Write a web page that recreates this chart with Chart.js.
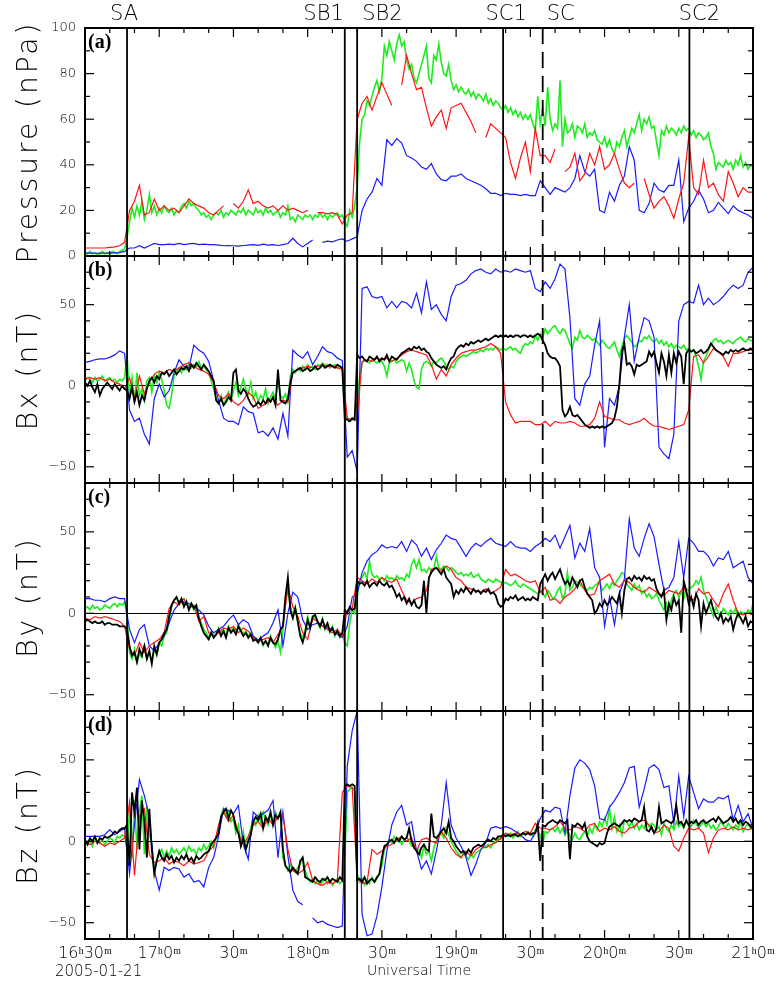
<!DOCTYPE html>
<html><head><meta charset="utf-8">
<script src="https://cdn.jsdelivr.net/npm/chart.js@4.4.1/dist/chart.umd.min.js"></script>
<style>
html,body{margin:0;padding:0;background:#fff;}
#wrap{position:relative;width:778px;height:982px;overflow:hidden;}
#wrap canvas{position:absolute;left:0;top:0;}
</style></head><body><div id="wrap">
<canvas id="pa" width="778" height="982"></canvas>
<canvas id="pb" width="778" height="982"></canvas>
<canvas id="pc" width="778" height="982"></canvas>
<canvas id="pd" width="778" height="982"></canvas>
</div>
<script>
// ---- time axis (minutes after 16:30 UT, 2005-01-21) ----
const xLabelMinutes = [0,30,60,90,120,150,180,210,240,270];
const xLabelTexts = ['16ʰ30ᵐ','17ʰ0ᵐ','30ᵐ','18ʰ0ᵐ','30ᵐ','19ʰ0ᵐ','30ᵐ','20ʰ0ᵐ','30ᵐ','21ʰ0ᵐ'];
const dateLabel = '2005-01-21';
const xTitle = 'Universal Time';
const eventTimes = [17,105,110,169,185,244.3];
const eventNames = ['SA','SB1','SB2','SC1','SC','SC2'];
const STEP_LO = 2;   // minutes between samples (blue / red)
const STEP_HI = 1;   // minutes between samples (green / black)

// ---- (a) Pressure (nPa) ----
const presRed = [
3.5,3.5,3.5,3.5,3.5,3.8,4,4.5,6,20,
24,31,18,19,25,20,22,20,21,19,
22,25,23,22,21,19,18,20,22,null,
23,21,24,29,23,24,22,21,22,20,
22,20,21,20,19,20,null,19,19,18.5,
19,18,14,18,19,60,67,70,64,70,
76,71,66,null,75,88,80,73,74,65,
57,61,64,56,65,66,67,63,59,54,
null,52,58,56,54,52,41,34,43,50,
37,56,44,44,41,47,null,37,39,45,
33,36,45,40,48,38,40,45,38,32,
30,32,null,34,27,21,24,26,22,16.5,
25,32,52,30,27,42,30,32,27,24,
37,32,26,30,28,28];
const presBlue = [
1.3,1.3,1.2,1.3,1.2,1.3,1.4,1.5,2,3.5,
3.5,4.5,3.5,4.5,5.5,5,5,5.2,5,5.5,
5,5.3,5.5,5,5.2,5,5,4.8,4.5,4.6,
4.5,4.3,4.6,4.8,5,4.7,5.2,4.8,5,4.6,
5,5.5,7.8,5.5,4,5.5,7,null,6,6.5,
6.2,7,7.5,6.5,7.5,8.4,20,25,28,34,
31,51,48.5,51.5,49.5,44,43,41.5,39,38,
40.5,36,33.5,33,35,35,36,34,33,32,
31,29.5,27.5,27.5,26.5,27.5,27,27,26.5,27,
26.5,26.5,33,30,27,30,29,28,30,34,
44,37,35,38,20,19,28,24,31,35,
48,42,20,19,23,32,29,28,31,31,
42,15,21,24,28.8,25,19,20,23.5,21,
18.6,22,20,19,18,16.5];
const presGreen = [
1.5,1,2,1,1.5,0.5,1,2,1,1.5,
1,2,1.5,1,2,2.5,3,8,15,21,
17,22,18,24,16,20,27,19,22,18,
21,19,22,20,19,21,18,20,19,22,
23,21,24,22,23,21,20,18,19,17,
18,16,18,19,18,20,17,19,18,20,
19,18,20,19,21,18,20,19,18,21,
19,20,18,21,19,20,18,19,20,17,
19,18,22,16,17,15,18,17,16,18,
17,18,16,18,17,19,17,18,16,18,
17,18,19,17,18,15,13,20,17,22,
30,50,60,62,68,66,70,74,77,72,
78,92,88,94,90,86,93,97,92,94,
86,82,84,78,76,80,84,88,92,78,
76,88,86,93,85,80,79,84,77,73,
75,72,74,72,71,73,70,72,69,71,
70,68,71,67,69,66,68,67,65,64,
66,63,65,62,64,61,63,60,62,60,
62,58,55,70,58,65,57,74,60,55,
58,56,77,48,60,54,55,58,52,57,
56,54,58,52,54,53,55,51,50,49,
52,48,51,47,45,50,48,52,55,48,
52,56,54,58,62,55,60,58,61,56,
57,50,44,55,53,57,54,56,55,53,
56,54,57,55,56,53,55,52,54,53,
51,52,54,48,45,38,41,40,39,42,
40,41,38,42,40,44,39,41,38,40,
39];

// ---- (b) Bx (nT) ----
const bxBlue = [
14.4,15,16,16.5,16.5,17.5,19,21.5,20,-15,
-22,-20,-30,-36,-8,1,-7,-3,8,16,
12,11,25,22,20,15,3,-9,-20,-22,
-22,-24,-13,-16,-17,-29,-28,-31,-26,-33,
-17,-31,22,19,17,21,13,18,24,21,
20,17,15.5,-44,-40,-53,60,61,55,54,
55,48,52,48,52,51,48,57,45,64,
47,50,44,40,55,62,63,65,69,71,
72,70,69,72,70,71,70,72,71,70,
71,60,58,64,60,66,75,72,42,-8,
-12,1,6,25,40,-38,-8,-12,0,30,
50,15,30,42,40,30,-38,-42,-45,-30,
40,50,52,51,62,50,54,50,52,55,
59,62,60,62,70,73];
const bxRed = [
4,5,4,5,3,4,2,1,-2,5,
-8,6,-5,2,7,9,8,10,9,11,
13,14,12,10,9,7,2,-6,-8,-5,
-10,-12,-9,-4,-7,-14,-12,-10,-8,-12,
-9,-10,8,10,11,12,11,12,13,12,
12,11,10,-20,-21,-20,15,16,15,17,
16,17,15,17,19,21,22,21,20,19,
13,4,10,6,13,17,20,21,22,22,
23,24,26,24,20,-10,-18,-23,-22,-22,
-22,-24,-24,-22,-25,-22,-23,-23,-22,-23,
-25,-25,-24,-20,-10,-19,-20,-21,-21,-23,
-24,-23,-22,-20,-23,-25,-25,-26,-27,-26,
-25,-24,-15,18,19,14,18,23,21,18,
12,20,20,21,22,22];
const bxGreen = [
3,5,4,2,5,3,4,6,3,4,
5,3,4,2,4,3,5,19,-8,5,
-10,8,-6,-2,-9,3,5,-4,6,2,
8,4,-3,-12,-14,-6,6,9,11,8,
12,10,14,11,13,12,15,11,12,10,
8,3,-2,-8,-10,-6,-12,-8,-4,-9,
-3,2,-6,-1,4,-2,-5,2,-8,-4,
-10,-6,-8,-2,-11,-7,-4,-9,5,-6,
-8,-5,-10,6,10,8,11,9,12,10,
13,11,12,10,13,12,14,12,13,11,
12,13,11,12,10,-15,-20,-22,-21,-19,
-10,5,14,16,15,14,16,15,14,15,
15,12,6,14,15,16,14,15,16,15,
9,14,10,3,-1,-2,10,14,15,14,
12,15,14,16,17,15,12,10,12,11,
15,17,18,19,18,19,20,21,20,21,
22,21,23,22,23,22,24,23,22,23,
22,23,24,22,23,21,20,24,26,25,
27,26,31,28,32,30,35,32,34,36,
37,34,32,35,34,30,26,23,30,28,
34,30,29,31,30,28,29,27,25,28,
26,24,23,25,27,22,18,24,29,31,
29,27,24,25,28,27,30,29,31,28,
27,29,26,28,25,27,24,26,23,25,
24,23,25,22,23,21,22,18,12,4,
15,18,22,25,28,29,27,28,26,27,
28,27,26,28,29,30,28,27,29,28,
27];
const bxBlack = [
2,0,3,-1,-4,1,-6,-2,0,2,
0,-2,1,-1,-3,0,-2,-3,-8,-1,
-10,-4,-12,-6,-9,-2,3,5,2,6,
4,8,7,9,6,8,10,7,9,11,
10,12,9,13,11,14,12,10,13,11,
9,6,3,-9,-11,-8,-12,-10,-7,-9,
8,10,-3,-5,-2,-4,-8,-11,-13,-12,
-10,-12,-9,-11,-8,-10,-7,-12,10,-9,
-10,-11,-8,2,8,9,10,11,9,10,
11,9,10,12,10,11,13,11,12,13,
12,11,13,12,11,-20,-21,-22,-20,-21,
19,17,18,16,15,18,17,16,18,15,
17,16,19,15,18,17,16,18,20,21,
22,23,22,24,23,24,22,23,21,20,
17,15,13,12,11,12,10,14,17,18,
22,24,25,24,26,25,27,26,27,28,
27,28,29,28,29,30,31,30,31,30,
31,30,31,30,31,31,30,31,31,30,
31,30,31,32,31,28,25,20,18,17,
17,15,12,-15,-19,-17,-13,-18,-19,-18,
-20,-22,-24,-25,-26,-25,-26,-25,-26,-25,
-26,-25,-24,-23,-20,-13,1,21,26,13,
14,12,7,13,12,13,14,15,21,18,
21,14,8,20,15,6,19,8,20,14,
21,18,1,20,22,21,22,20,21,22,
20,21,23,26,24,22,21,20,19,21,
20,22,21,22,21,22,23,22,22,23,
22];

// ---- (c) By (nT) ----
const byBlue = [
9,9,8,8,7,9,10,9,9,-10,
-18,-10,-7,-20,-23,-18,-14,-6,2,6,
7,6,4,2,-1,-8,-12,-10,-8,-4,
-1,-7,-4,-6,-14,-16.5,-14,-12,-6,2,
-20,0,13,10,-4,-10,-7,-6,-8,-9,
-10,-13,-15,-8,10,12,25,32,36,38,
42,40,41,40,44,38,45,42,35,40,
33,39,43,48,46,45,40,35,40,43,
41,44,46,43,42,41,44,41,40,40,
38,41,43,46,44,48,40,47,54,34,
43,38,52,28,22,-8,10,-7,12,21,
58,40,35,46,55,47,30,14,16,22,
44,22,46,43,38,38,35,29,34,33,
38,28,30,32,22,18];
const byRed = [
-3,-4,-2,-3,-2,-3,-4,-5,-8,-22,
-26,-18,-24,-20,-18,-16,-12,3,7,5,
9,3,5,-5,-2,-12,-14,-12,-9,-10,
-8,-12,-9,-11,-15,-17,-16,-15,-18,-13,
-8,16,4,-2,-12,-16,-3,-5,-8,-10,
-12,-10,-14,2,3,22,20,18,21,19,
22,20,19,21,14,8,6,9,10,14,
27,28,26,29,27,22,20,16,15,14,
13,15,12,14,16,27,23,24,22,20,
19,20,13,16,8,9,6,10,12,15,
20,14,11,12,20,22,24,18,16,20,
19,16,14,13,16,14,12,11,14,13,
12,16,10,8,15,12,13,8,4,12,
18,8,0,-1,0,-1];
const byGreen = [
3,4,2,5,3,4,2,3,5,4,
3,5,6,4,6,5,7,-2,-24,-28,
-22,-30,-25,-27,-20,-28,-24,-30,-22,-26,
-18,-20,-14,-12,-5,4,8,10,6,9,
5,8,3,6,2,4,-2,-6,-10,-12,
-15,-11,-14,-13,-9,-12,-10,-14,-8,-11,
-9,-12,-7,-10,-13,-11,-14,-12,-16,-15,
-18,-16,-20,-17,-19,-14,-18,-21,-17,-24,
-10,8,14,5,-2,4,-6,-12,-15,-10,
-2,-8,-4,-1,-6,-9,-3,-10,-7,-12,
-8,-14,-10,-15,-12,-18,-20,-6,2,0,
10,20,22,25,21,32,24,22,23,21,
22,20,23,21,22,20,23,21,22,20,
24,22,30,33,28,33,26,27,25,28,
26,27,35,28,27,29,28,26,28,27,
25,24,25,23,24,23,25,22,23,24,
21,20,19,21,20,19,21,20,19,18,
19,18,17,18,20,17,16,18,17,16,
15,14,13,12,14,12,10,14,12,9,
10,14,16,9,12,25,14,16,20,19,
18,16,15,14,16,15,17,18,20,14,
16,18,15,19,17,20,22,25,24,18,
16,14,18,15,17,12,14,10,12,9,
10,12,8,5,2,6,0,8,12,14,
10,13,9,15,14,16,17,20,18,22,
14,10,6,2,-2,4,0,-2,3,1,
-1,2,0,3,-2,1,0,-1,2,0,
6];
const byBlack = [
-5,-4,-5,-6,-5,-6,-6,-5,-7,-6,
-6,-7,-7,-7,-8,-8,-8,-10,-20,-26,
-24,-30,-22,-26,-20,-28,-23,-31,-20,-25,
-18,-16,-12,-10,-2,5,8,10,6,9,
4,7,2,6,3,5,-3,-8,-12,-14,
-16,-12,-15,-13,-10,-14,-11,-15,-9,-12,
-10,-13,-8,-11,-14,-12,-15,-13,-17,-16,
-18,-15,-19,-17,-20,-15,-18,-19,-16,-10,
-8,10,22,2,-3,3,-5,-14,-18,-12,
-4,-9,-2,-1,-5,-8,-4,-9,-6,-11,
-9,-13,-11,-14,-12,2,0,4,2,3,
20,18,19,17,20,16,18,19,17,20,
18,17,19,16,17,14,10,12,8,10,
6,9,5,8,4,3,5,20,0,22,
25,27,28,26,24,27,22,20,18,10,
14,12,15,13,16,14,12,15,13,14,
12,14,13,15,12,13,11,6,4,5,
9,8,10,9,11,8,9,10,8,9,
8,10,9,8,18,21,24,20,23,25,
21,24,27,22,18,20,17,22,19,16,
20,21,16,12,10,8,0,2,6,4,
8,5,7,10,8,6,12,0,14,21,
22,20,23,21,22,20,23,21,22,20,
21,15,12,10,14,-4,6,2,10,5,
8,-12,20,14,6,10,4,12,8,-8,
6,0,4,8,2,-2,-4,0,-6,-3,
-5,-2,-10,-4,0,-3,-6,-2,-8,-5,
-6];

// ---- (d) Bz (nT) ----
const bzBlue = [
3,3,3,3,4,7,4,6,8,-20,
10,38,28,15,-18,-30,-16,-18,-16,-17,
-22,-20,-25,-24,-28,-16,-10,3,20,19,
17,22,-2,-11,18,15,17,19,25,-10,
18,-9,-30,-37,-39,null,-47,-50,-49,-51,
-52,-53,-52,46,68,80,-45,-58,-57,-46,
-28,-6,10,18,22,10,12,-6,-17,-12,
-20,-6,10,36,10,2,-3,-10,-21,-14,
-5,-1,8,9,8,9,8,6,4,1,
0,5,14,19,18,21,20,5,28,45,
50,48,44,34,14,13,21,25,30,36,
45,46,21,32,45,47,44,33,34,11,
40,15,40,30,20,26,24,24,27,26,
28,13,22,12,17,8];
const bzRed = [
-1,-2,0,-1,-3,-1,-2,0,2,24,
-21,15,20,-8,-13,-12,-10,-14,-12,-13,
-15,-12,-14,-13,-12,-6,-3,10,18,12,
16,5,-2,3,10,12,8,14,10,15,
16,-5,-18,-20,-18,-13,-24,-26,-27,-25,
-26,-24,30,34,33,-22,-26,-25,-5,-8,
-6,-3,-2,1,3,0,2,-6,1,2,
0,-1,6,2,-4,-8,-10,-6,-9,-5,
-3,-4,-2,-1,2,5,4,5,4,6,
5,11,8,8,7,9,12,8,7,9,
8,6,10,11,6,8,7,9,6,5,
8,9,12,13,10,5,6,10,8,-3,
-6,2,8,7,8,5,-7,2,7,8,
7,9,7,8,7,8];
const bzGreen = [
0,-2,1,-3,2,0,-1,1,-2,0,
2,1,-1,3,2,4,3,-5,20,-10,
25,-5,18,28,-8,22,5,-2,-18,-12,
-8,-5,-10,-6,-9,-4,-7,-5,-8,-6,
-4,-7,-3,-6,-5,-8,-4,-6,-2,-5,
-3,0,-4,2,8,16,20,15,18,12,
14,5,10,-2,6,-6,2,8,14,10,
16,12,18,14,10,16,12,18,14,17,
-10,-15,-18,-14,-17,-19,-16,-14,-10,-18,
-22,-25,-23,-26,-24,-27,-25,-23,-26,-24,
-27,-25,-23,-26,-24,-10,30,32,33,31,
-20,-25,-23,-27,-24,-26,-22,-25,-23,-20,
-15,-5,-2,1,-1,3,0,2,-2,1,
3,0,-3,-2,-6,-5,-10,-3,-8,-6,
-12,-4,0,3,5,2,8,4,0,-3,
-6,-8,-10,-7,-9,-11,-8,-10,-7,-6,
-5,-4,-3,-2,-4,-1,0,2,1,3,
4,3,5,2,4,6,3,5,4,6,
5,3,7,6,4,-2,6,5,7,8,
6,9,5,8,4,7,3,1,5,2,
1,4,6,3,8,5,10,7,12,9,
14,10,20,8,15,6,10,4,13,12,
9,12,8,11,7,10,8,12,9,11,
10,7,9,4,11,8,6,10,7,12,
9,11,8,12,10,9,13,11,8,10,
12,9,11,8,10,7,9,12,10,8,
11,9,7,10,8,12,6,9,11,8,
9];
const bzBlack = [
1,-2,2,0,3,-1,2,1,3,2,
3,4,6,5,7,8,8,10,-15,30,
18,33,-5,25,12,-10,20,-5,-20,-12,
-6,-10,-12,-8,-11,-9,-13,-10,-12,-9,
-11,-8,-12,-10,-13,-9,-11,-10,-8,-7,
-6,-2,0,2,5,15,18,20,14,19,
16,8,5,-3,2,-5,0,4,12,15,
13,17,8,15,12,18,10,16,14,18,
-5,-15,-17,-19,-16,-18,-20,-12,-10,-22,
-23,-24,-25,-22,-24,-25,-23,-24,-22,-25,
-23,-24,-25,-22,-24,34,35,34,35,34,
-24,-23,-25,-22,-26,-24,-23,-25,-22,-20,
-10,-3,-2,0,1,-1,2,0,3,1,
2,8,0,-4,-6,-8,-4,-2,-5,-6,
17,3,2,4,6,8,5,12,2,0,
-3,-5,-7,-6,-8,-5,-7,-4,-3,-2,
-3,-2,0,1,0,2,1,3,3,4,
3,4,3,4,4,3,4,5,4,5,
4,5,5,11,-12,10,9,11,12,13,
12,11,13,12,11,13,-11,10,9,11,
10,8,11,3,0,-1,-2,-3,-1,-2,
-1,5,9,10,11,10,9,11,13,12,
13,12,14,13,12,13,21,7,6,9,
5,8,21,11,12,13,12,11,13,22,
11,12,9,13,10,12,11,13,10,12,
13,11,12,13,14,12,15,13,11,12,
13,15,12,14,11,13,10,12,11,9,
8];

// ---- checks ----
[['presRed',presRed,136],['presBlue',presBlue,136],['presGreen',presGreen,271],
 ['bxBlue',bxBlue,136],['bxRed',bxRed,136],['bxGreen',bxGreen,271],['bxBlack',bxBlack,271],
 ['byBlue',byBlue,136],['byRed',byRed,136],['byGreen',byGreen,271],['byBlack',byBlack,271],
 ['bzBlue',bzBlue,136],['bzRed',bzRed,136],['bzGreen',bzGreen,271],['bzBlack',bzBlack,271]
].forEach(([n,a,l])=>{ if(a.length!==l) throw new Error(n+' length '+a.length+' expected '+l); });

// ---- styles ----
const FONT = '"DejaVu Sans"';
const FW = '200';
const C_BLUE = '#1a1aff', C_RED = '#ff1414', C_GREEN = '#1eec1e', C_BLACK = '#000000';
const EVENT_DASH = [[],[],[],[],[16,8],[]];
const EVENT_ALIGN = ['center','right','left','center','left','center'];
const EVENT_DX = [-3,-1,5,3,4,10];

function series(values, step, color, width, order){
  return { data: values.map((v,i)=>({x:i*step, y:v})), borderColor: color, borderWidth: width,
           pointRadius: 0, fill: false, tension: 0, spanGaps: false, order: order };
}
function fmt(v){ return v < 0 ? '\u2212' + Math.abs(v) : String(v); }

const deco = {
  id: 'deco',
  afterDatasetsDraw(chart, args, o){
    const ctx = chart.ctx, a = chart.chartArea, xs = chart.scales.x, ys = chart.scales.y;
    ctx.save();
    ctx.strokeStyle = '#000'; ctx.fillStyle = '#000';
    const line = (x1,y1,x2,y2)=>{ ctx.beginPath(); ctx.moveTo(x1,y1); ctx.lineTo(x2,y2); ctx.stroke(); };
    // event lines
    eventTimes.forEach((t,i)=>{
      const px = xs.getPixelForValue(t);
      ctx.lineWidth = 1.8; ctx.setLineDash(EVENT_DASH[i]);
      line(px, a.top, px, a.bottom);
    });
    ctx.setLineDash([]);
    // frame
    ctx.lineWidth = 2;
    ctx.strokeRect(a.left, a.top, a.right - a.left, a.bottom - a.top);
    // inward ticks
    ctx.lineWidth = 1.2;
    let xt = xs.ticks && xs.ticks.length ? xs.ticks.map(t=>t.value) : [];
    if (!xt.length) for (let m = 0; m <= 270; m += 10) xt.push(m);
    xt.forEach(v=>{
      const px = xs.getPixelForValue(v); const L = (v % 30 === 0) ? 9 : 5;
      line(px, a.top, px, a.top + L); line(px, a.bottom, px, a.bottom - L);
    });
    ys.ticks.forEach(t=>{
      const py = ys.getPixelForValue(t.value); const L = (t.value % o.labelEvery === 0) ? 9 : 5;
      line(a.left, py, a.left + L, py); line(a.right, py, a.right - L, py);
    });
    // panel tag
    ctx.font = 'bold 20px "Liberation Serif"';
    ctx.textAlign = 'left'; ctx.textBaseline = 'middle';
    ctx.fillText(o.tag, a.left + 3, a.top + 15);
    // y title
    ctx.save();
    ctx.translate(30, (a.top + a.bottom) / 2);
    ctx.rotate(-Math.PI / 2);
    ctx.font = FW + ' 28px ' + FONT;
    try { ctx.letterSpacing = '3px'; } catch(e) {}
    ctx.textAlign = 'center'; ctx.textBaseline = 'middle';
    ctx.fillText(o.title, 0, 0);
    ctx.restore();
    // event names on top panel
    if (o.first) {
      ctx.font = FW + ' 21px ' + FONT; ctx.textBaseline = 'middle';
      eventNames.forEach((n,i)=>{
        ctx.textAlign = EVENT_ALIGN[i];
        ctx.fillText(n, xs.getPixelForValue(eventTimes[i]) + EVENT_DX[i], 15);
      });
    }
    if (o.last) {
      ctx.font = FW + ' 15px ' + FONT; ctx.textAlign = 'left'; ctx.textBaseline = 'middle';
      ctx.fillText(dateLabel, xs.getPixelForValue(0) - 30, 972);
    }
    ctx.restore();
  }
};

const panels = [
  {id:'pa', top:28, bottom:256, min:0, max:100, labelEvery:20, zero:false, tag:'(a)', title:'Pressure (nPa)',
   ds:[series(presGreen,STEP_HI,C_GREEN,1.6,3), series(presBlue,STEP_LO,C_BLUE,1.2,2), series(presRed,STEP_LO,C_RED,1.2,1)]},
  {id:'pb', top:256, bottom:483, min:-60, max:80, labelEvery:50, zero:true, tag:'(b)', title:'Bx (nT)',
   ds:[series(bxGreen,STEP_HI,C_GREEN,1.6,3), series(bxBlue,STEP_LO,C_BLUE,1.2,2), series(bxRed,STEP_LO,C_RED,1.2,1), series(bxBlack,STEP_HI,C_BLACK,1.8,0)]},
  {id:'pc', top:483, bottom:711, min:-60, max:80, labelEvery:50, zero:true, tag:'(c)', title:'By (nT)',
   ds:[series(byGreen,STEP_HI,C_GREEN,1.6,3), series(byBlue,STEP_LO,C_BLUE,1.2,2), series(byRed,STEP_LO,C_RED,1.2,1), series(byBlack,STEP_HI,C_BLACK,1.8,0)]},
  {id:'pd', top:711, bottom:939, min:-60, max:80, labelEvery:50, zero:true, tag:'(d)', title:'Bz (nT)',
   ds:[series(bzGreen,STEP_HI,C_GREEN,1.6,3), series(bzBlue,STEP_LO,C_BLUE,1.2,2), series(bzRed,STEP_LO,C_RED,1.2,1), series(bzBlack,STEP_HI,C_BLACK,1.8,0)]}
];

panels.forEach((p, idx)=>{
  const last = idx === panels.length - 1;
  new Chart(document.getElementById(p.id), {
    type: 'line',
    data: { datasets: p.ds },
    plugins: [deco],
    options: {
      responsive: false, animation: false, devicePixelRatio: 1, events: [],
      layout: { padding: { left: 0, right: 25, top: p.top, bottom: last ? 0 : 982 - p.bottom } },
      plugins: { legend: {display:false}, tooltip: {enabled:false},
                 deco: { tag: p.tag, title: p.title, labelEvery: p.labelEvery, first: idx === 0, last: last } },
      scales: {
        x: { type:'linear', min:0, max:270, display: last,
             afterFit: s => { s.height = last ? 43 : 0; s.paddingLeft = 0; s.paddingRight = 0; },
             ticks: { stepSize:10, autoSkip:false, maxRotation:0, padding:5, color:'#000',
                      font:{family:FONT, size:16, weight:FW},
                      callback: v => { const i = xLabelMinutes.indexOf(v); return i >= 0 ? xLabelTexts[i] : ''; } },
             grid: { display:false, drawTicks:false }, border: { display:false },
             title: { display:true, text:xTitle, color:'#000', font:{family:FONT, size:14, weight:FW}, padding:{top:0,bottom:2} } },
        y: { type:'linear', min:p.min, max:p.max,
             afterFit: s => { s.width = 85; s.paddingTop = 0; s.paddingBottom = 0; },
             ticks: { stepSize:10, autoSkip:false, padding:9, color:'#000', font:{family:FONT, size:13, weight:FW},
                      callback: v => (v % p.labelEvery === 0) ? fmt(v) : '' },
             grid: { drawTicks:false, lineWidth:1,
                     color: c => (p.zero && c.tick && c.tick.value === 0) ? '#000' : 'rgba(0,0,0,0)' },
             border: { display:false } }
      }
    }
  });
});
</script></body></html>
